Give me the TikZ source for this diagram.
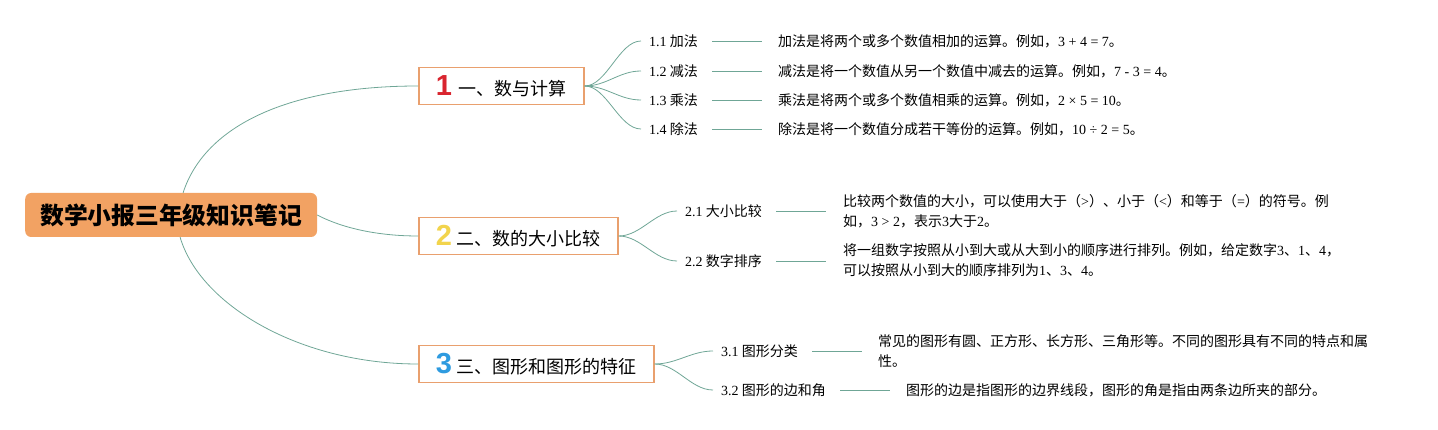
\documentclass[tikz,border=0pt]{standalone}
\usepackage{fontspec}
\setmainfont{Liberation Serif}
\newfontfamily\cjk{Noto Sans CJK SC}
\newfontfamily\numfont{Liberation Sans}
\newcommand\LT[1]{{\rmfamily #1}}
\definecolor{rootfill}{HTML}{F2A263}
\definecolor{boxline}{HTML}{E9A06E}
\definecolor{link}{HTML}{6FA696}
\definecolor{nred}{HTML}{D9252F}
\definecolor{nyellow}{HTML}{F2D44C}
\definecolor{nblue}{HTML}{2E9BE0}
\tikzset{
  rootbox/.style={fill=rootfill, rounded corners=6pt, inner xsep=15pt, minimum height=44pt,
    font=\cjk\bfseries\fontsize{23.8}{26}\selectfont, anchor=west},
  mainbox/.style={draw=boxline, line width=1.6pt, fill=white, inner xsep=17pt, minimum height=37pt,
    font=\cjk\fontsize{18}{20}\selectfont, anchor=west},
  leaf/.style={inner sep=0pt, anchor=west, font=\cjk\fontsize{14}{19}\selectfont},
  desc/.style={inner sep=0pt, anchor=west, align=left, font=\cjk\fontsize{14}{20}\selectfont},
  link/.style={draw=link, line width=0.8pt},
  numtext/.style={}
}
\newcommand\bignum[2]{{\numfont\bfseries\fontsize{29}{29}\selectfont\color{#1}#2}}
\begin{document}
\begin{tikzpicture}[x=1pt,y=-1pt]
\path[use as bounding box] (0,0) rectangle (1438,430);

\node[rootbox] (root) at (25,215) {数学小报三年级知识笔记};

\node[mainbox] (b1) at (418,86) {\bignum{nred}{1}\hspace{7pt}一、数与计算};
\node[mainbox] (b2) at (418,236) {\bignum{nyellow}{2}\hspace{5pt}二、数的大小比较};
\node[mainbox] (b3) at (418,364) {\bignum{nblue}{3}\hspace{5pt}三、图形和图形的特征};

\draw[link] ([xshift=12pt]root.north) .. controls (205,125) and (290,86) .. (b1.west);
\draw[link] (root.east) .. controls (350,232) and (390,236) .. (b2.west);
\draw[link] ([xshift=9pt]root.south) .. controls (200,305) and (300,364) .. (b3.west);

% branch 1 leaves
\node[leaf] (l11) at (649,41) {\LT{1.1} 加法};
\node[leaf] (l12) at (649,71) {\LT{1.2} 减法};
\node[leaf] (l13) at (649,100) {\LT{1.3} 乘法};
\node[leaf] (l14) at (649,129) {\LT{1.4} 除法};
\node[desc] (d11) at (778,41) {加法是将两个或多个数值相加的运算。例如，\LT{3 + 4 = 7}。};
\node[desc] (d12) at (778,71) {减法是将一个数值从另一个数值中减去的运算。例如，\LT{7 - 3 = 4}。};
\node[desc] (d13) at (778,100) {乘法是将两个或多个数值相乘的运算。例如，\LT{2 × 5 = 10}。};
\node[desc] (d14) at (778,129) {除法是将一个数值分成若干等份的运算。例如，\LT{10 ÷ 2 = 5}。};

% branch 2 leaves
\node[leaf] (l21) at (685,211) {\LT{2.1} 大小比较};
\node[leaf] (l22) at (685,261) {\LT{2.2} 数字排序};
\node[desc] (d21) at (843,211) {比较两个数值的大小，可以使用大于（\LT{>}）、小于（\LT{<}）和等于（\LT{=}）的符号。例\\如，\LT{3 > 2}，表示\LT{3}大于\LT{2}。};
\node[desc] (d22) at (843,260) {将一组数字按照从小到大或从大到小的顺序进行排列。例如，给定数字\LT{3}、\LT{1}、\LT{4}，\\可以按照从小到大的顺序排列为\LT{1}、\LT{3}、\LT{4}。};

% branch 3 leaves
\node[leaf] (l31) at (721,351) {\LT{3.1} 图形分类};
\node[leaf] (l32) at (721,390) {\LT{3.2} 图形的边和角};
\node[desc] (d31) at (878,351) {常见的图形有圆、正方形、长方形、三角形等。不同的图形具有不同的特点和属\\性。};
\node[desc] (d32) at (906,390) {图形的边是指图形的边界线段，图形的角是指由两条边所夹的部分。};

% fan links
\foreach \l in {l11,l12,l13,l14}{
  \draw[link] (b1.east) .. controls +(22,0) and ([xshift=-30pt]\l.west) .. ([xshift=-8pt]\l.west);
}
\foreach \l in {l21,l22}{
  \draw[link] (b2.east) .. controls +(22,0) and ([xshift=-30pt]\l.west) .. ([xshift=-8pt]\l.west);
}
\foreach \l in {l31,l32}{
  \draw[link] (b3.east) .. controls +(22,0) and ([xshift=-30pt]\l.west) .. ([xshift=-8pt]\l.west);
}
% short connectors leaf -> description
\foreach \a in {l11,l12,l13,l14,l21,l22,l31,l32}{
  \draw[link] ([xshift=14pt]\a.east) -- ([xshift=64pt]\a.east);
}
\end{tikzpicture}
\end{document}
